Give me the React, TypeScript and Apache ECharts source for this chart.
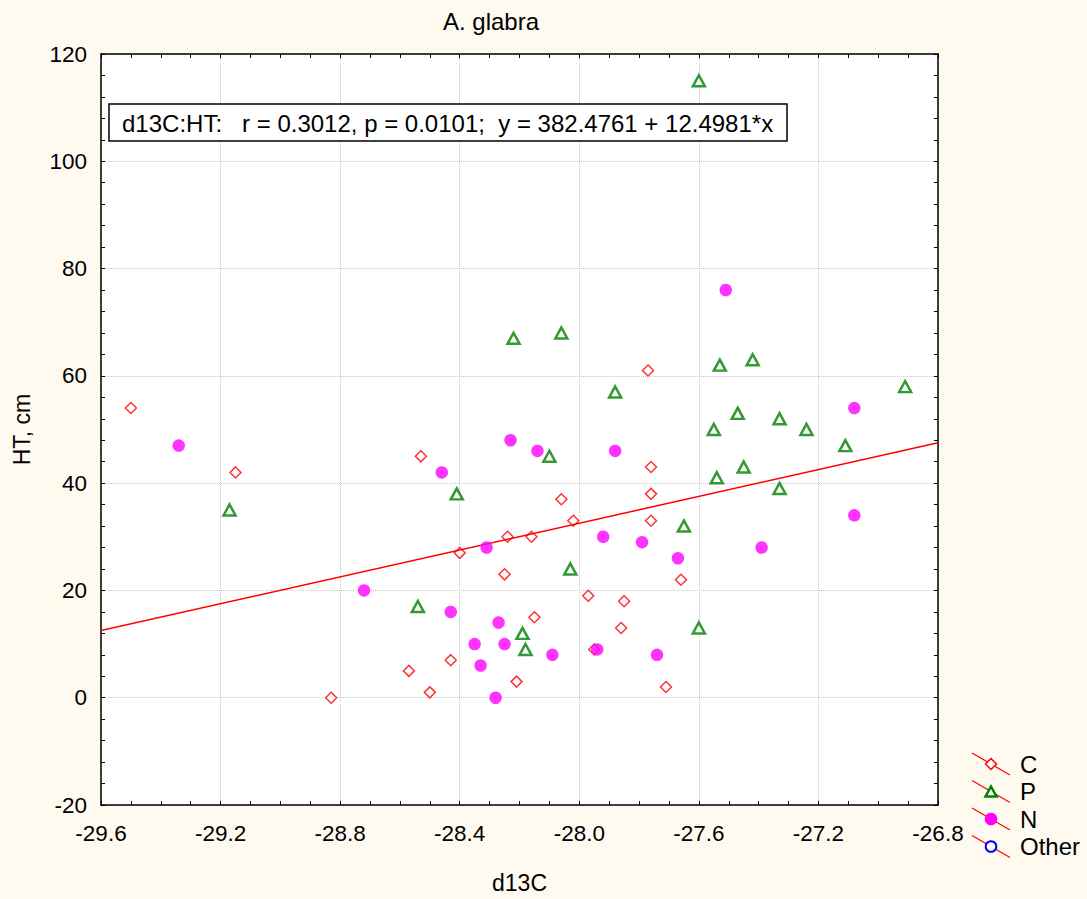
import React, { useEffect, useRef } from "react";
import * as echarts from "echarts";

const TITLE = "A. glabra";
const X_NAME = "d13C";
const Y_NAME = "HT, cm";
const X_MIN = -29.6;
const X_MAX = -26.8;
const X_STEP = 0.4;
const Y_MIN = -20;
const Y_MAX = 120;
const Y_STEP = 20;

const INTERCEPT = 382.4761;
const SLOPE = 12.4981;
const STATS_TEXT = "d13C:HT:   r = 0.3012, p = 0.0101;  y = 382.4761 + 12.4981*x";

const LEGEND_NAMES = ["C", "P", "N", "Other"];

const cX = [-29.5, -29.15, -28.83, -28.53, -28.4, -28.57, -28.5, -28.43, -28.24, -28.16, -28.25, -28.21, -28.15, -28.06, -28.02, -27.97, -27.85, -27.86, -27.95, -27.77, -27.76, -27.76, -27.76, -27.66, -27.71];
const cY = [54, 42, 0, 45, 27, 5, 1, 7, 30, 30, 23, 3, 15, 37, 33, 19, 18, 13, 9, 61, 43, 38, 33, 22, 2];

const pX = [-29.17, -28.54, -28.41, -28.22, -28.06, -28.1, -28.03, -28.19, -28.18, -27.88, -27.65, -27.6, -27.53, -27.42, -27.47, -27.55, -27.33, -27.24, -27.11, -26.91, -27.45, -27.54, -27.33, -27.6];
const pY = [35, 17, 38, 67, 68, 45, 24, 12, 9, 57, 32, 13, 62, 63, 53, 50, 52, 50, 47, 58, 43, 41, 39, 115];

const nX = [-29.34, -28.72, -28.46, -28.43, -28.23, -28.14, -28.31, -28.27, -28.35, -28.25, -28.33, -28.28, -28.09, -27.94, -27.92, -27.79, -27.88, -27.67, -27.39, -27.74, -27.51, -27.08, -27.08];
const nY = [47, 20, 42, 16, 48, 46, 28, 14, 10, 10, 6, 0, 8, 9, 30, 29, 46, 26, 28, 8, 76, 54, 34];

const FONT = "'Liberation Sans', Arial, sans-serif";

const zip = (xs: number[], ys: number[]) => xs.map((x, i) => [x, ys[i]]);

export default function App() {
  const ref = useRef<HTMLDivElement>(null);
  useEffect(() => {
    document.body.style.margin = "0";
    const chart = echarts.init(ref.current!, null, { renderer: "svg", width: 1087, height: 899 });

    const axisCommon = {
      axisLine: { show: true, onZero: false, lineStyle: { color: "#000", width: 1.5 } },
      axisTick: { show: true, inside: true, length: 4, lineStyle: { color: "#000", width: 1 } },
      minorTick: { show: true, length: 4, lineStyle: { color: "#000", width: 1 } },
    };

    const legendGraphics: any[] = [];
    LEGEND_NAMES.forEach((name, i) => {
      const y0 = 764 + i * 27.5;
      const cx = 991;
      legendGraphics.push({
        type: "line",
        shape: { x1: 972, y1: y0 - 11, x2: 1010, y2: y0 + 11 },
        style: { stroke: "#ff0000", lineWidth: 1.2 },
      });
      if (i === 0) {
        legendGraphics.push({
          type: "polygon",
          shape: { points: [[cx, y0 - 5.5], [cx + 5.5, y0], [cx, y0 + 5.5], [cx - 5.5, y0]] },
          style: { fill: "#fff", stroke: "#ff0000", lineWidth: 1.5 },
        });
      } else if (i === 1) {
        legendGraphics.push({
          type: "polygon",
          shape: { points: [[cx, y0 - 5], [cx + 5.5, y0 + 5], [cx - 5.5, y0 + 5]] },
          style: { fill: "#fff", stroke: "#008000", lineWidth: 2.5 },
        });
      } else if (i === 2) {
        legendGraphics.push({
          type: "circle",
          shape: { cx, cy: y0, r: 6.3 },
          style: { fill: "#ff00ff" },
        });
      } else {
        legendGraphics.push({
          type: "circle",
          shape: { cx, cy: y0, r: 5.3 },
          style: { fill: "#fff", stroke: "#0000ff", lineWidth: 2 },
        });
      }
      legendGraphics.push({
        type: "text",
        x: 1020,
        y: y0,
        style: { text: name, fill: "#000", font: `24px ${FONT}`, textAlign: "left", textVerticalAlign: "middle" },
      });
    });

    chart.setOption({
      animation: false,
      backgroundColor: "#fffaf0",
      textStyle: { fontFamily: FONT },
      title: {
        text: TITLE,
        left: 486,
        top: 4,
        textAlign: "center",
        textStyle: { fontSize: 24, fontWeight: "normal", color: "#000", fontFamily: FONT },
      },
      grid: { left: 101, top: 54, width: 837, height: 759, show: true, backgroundColor: "#ffffff", borderWidth: 0 },
      xAxis: [
        {
          type: "value",
          min: X_MIN,
          max: X_MAX,
          interval: X_STEP,
          position: "bottom",
          name: X_NAME,
          nameLocation: "middle",
          nameGap: 66,
          nameTextStyle: { fontSize: 23, color: "#000", fontFamily: FONT },
          ...axisCommon,
          minorTick: { ...axisCommon.minorTick, splitNumber: 4 },
          axisLabel: { fontSize: 22.5, color: "#000", margin: 17, fontFamily: FONT, formatter: (v: number) => v.toFixed(1) },
          splitLine: { show: true, lineStyle: { color: "#c8c8c8", type: "dotted", width: 1 } },
        },
        {
          type: "value",
          min: X_MIN,
          max: X_MAX,
          interval: X_STEP,
          position: "top",
          ...axisCommon,
          minorTick: { ...axisCommon.minorTick, splitNumber: 4 },
          axisLabel: { show: false },
          splitLine: { show: false },
        },
      ],
      yAxis: [
        {
          type: "value",
          min: Y_MIN,
          max: Y_MAX,
          interval: Y_STEP,
          position: "left",
          name: Y_NAME,
          nameLocation: "middle",
          nameGap: 68,
          nameRotate: 90,
          nameTextStyle: { fontSize: 23, color: "#000", fontFamily: FONT },
          ...axisCommon,
          minorTick: { ...axisCommon.minorTick, splitNumber: 5 },
          axisLabel: { fontSize: 22.5, color: "#000", margin: 14, fontFamily: FONT },
          splitLine: { show: true, lineStyle: { color: "#c8c8c8", type: "dotted", width: 1 } },
        },
        {
          type: "value",
          min: Y_MIN,
          max: Y_MAX,
          interval: Y_STEP,
          position: "right",
          ...axisCommon,
          minorTick: { ...axisCommon.minorTick, splitNumber: 5 },
          axisLabel: { show: false },
          splitLine: { show: false },
        },
      ],
      series: [
        {
          name: "C",
          type: "scatter",
          data: zip(cX, cY),
          symbol: "diamond",
          symbolSize: 11,
          itemStyle: { color: "#ffffff", borderColor: "#ff0000", borderWidth: 1.5 },
          z: 3,
        },
        {
          name: "fit",
          type: "line",
          data: [
            [X_MIN, INTERCEPT + SLOPE * X_MIN],
            [X_MAX, INTERCEPT + SLOPE * X_MAX],
          ],
          showSymbol: false,
          symbol: "none",
          lineStyle: { color: "#ff0000", width: 1.5 },
          z: 4,
        },
        {
          name: "P",
          type: "scatter",
          data: zip(pX, pY),
          symbol: "triangle",
          symbolSize: [12, 11],
          itemStyle: { color: "#ffffff", borderColor: "#008000", borderWidth: 2.5 },
          z: 5,
        },
        {
          name: "N",
          type: "scatter",
          data: zip(nX, nY),
          symbol: "circle",
          symbolSize: 12.5,
          itemStyle: { color: "#ff00ff" },
          z: 6,
        },
      ],
      graphic: [
        {
          type: "rect",
          shape: { x: 109, y: 104, width: 678, height: 37 },
          style: { fill: "#ffffff", stroke: "#000000", lineWidth: 1.5 },
          z: 100,
        },
        {
          type: "text",
          x: 122,
          y: 123,
          z: 101,
          style: { text: STATS_TEXT, fill: "#000", font: `24px ${FONT}`, textAlign: "left", textVerticalAlign: "middle" },
        },
        ...legendGraphics,
      ],
    });
    return () => chart.dispose();
  }, []);
  return <div ref={ref} style={{ width: 1087, height: 899 }} />;
}
